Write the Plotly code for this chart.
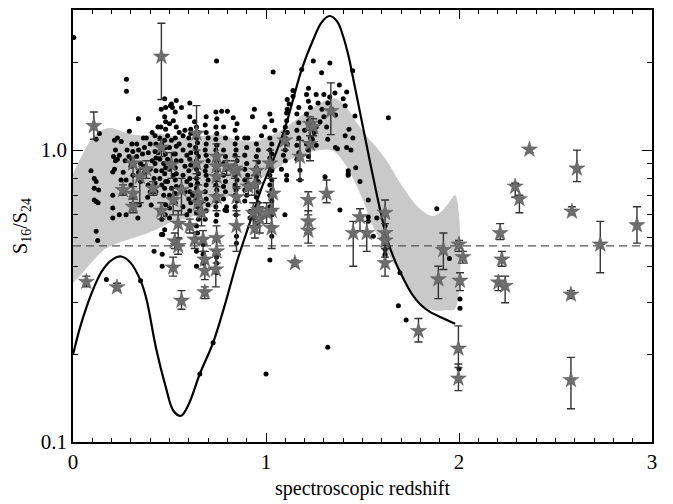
import plotly.graph_objects as go
import math

# ---------------- data ----------------
# model curve (spectroscopic redshift, S16/S24)
curve_x = [0.00, 0.035, 0.07, 0.11, 0.15, 0.20, 0.25, 0.30, 0.35, 0.38, 0.43, 0.48, 0.52, 0.56,
           0.60, 0.657, 0.726, 0.79, 0.853, 0.93, 0.98, 1.037, 1.10, 1.185, 1.24, 1.29, 1.33,
           1.37, 1.40, 1.426, 1.461, 1.513, 1.55, 1.59, 1.63, 1.67, 1.70, 1.755, 1.80, 1.85, 1.92, 1.98]
curve_y = [0.199, 0.245, 0.29, 0.34, 0.385, 0.42, 0.432, 0.41, 0.357, 0.31, 0.21, 0.155, 0.128, 0.123,
           0.135, 0.171, 0.219, 0.30, 0.422, 0.60, 0.75, 0.923, 1.2, 1.89, 2.35, 2.75, 2.88,
           2.75, 2.45, 2.12, 1.64, 1.106, 0.84, 0.63, 0.49, 0.415, 0.376, 0.322, 0.296, 0.279, 0.265, 0.254]

# grey band: upper and lower envelopes
band_up_x = [0.0, 0.05, 0.10, 0.15, 0.20, 0.25, 0.31, 0.38, 0.43, 0.50, 0.59, 0.68, 0.75, 0.80, 0.86,
             0.92, 0.98, 1.05, 1.12, 1.20, 1.26, 1.31, 1.36, 1.41, 1.47, 1.53, 1.59, 1.64, 1.68, 1.72,
             1.76, 1.81, 1.86, 1.90, 1.94, 1.98]
band_up_y = [0.83, 0.97, 1.10, 1.17, 1.19, 1.16, 1.13, 1.12, 1.14, 1.12, 1.10, 1.12, 1.13, 1.11, 1.08,
             1.07, 1.09, 1.14, 1.22, 1.34, 1.42, 1.48, 1.50, 1.42, 1.24, 1.10, 0.99, 0.89, 0.80, 0.73,
             0.67, 0.62, 0.595, 0.61, 0.65, 0.70]
band_lo_x = [0.0, 0.05, 0.10, 0.17, 0.26, 0.34, 0.43, 0.52, 0.60, 0.66, 0.71, 0.79, 0.88, 0.96, 1.05,
             1.13, 1.20, 1.28, 1.34, 1.38, 1.43, 1.50, 1.55, 1.60, 1.64, 1.68, 1.72, 1.76, 1.81, 1.87,
             1.93, 1.98]
band_lo_y = [0.35, 0.38, 0.415, 0.46, 0.487, 0.507, 0.534, 0.57, 0.585, 0.61, 0.633, 0.684, 0.74, 0.79, 0.86,
             0.93, 0.97, 1.0, 1.0, 0.95, 0.85, 0.68, 0.555, 0.48, 0.435, 0.39, 0.355, 0.315, 0.293, 0.282,
             0.283, 0.286]

# reference level (dashed line)
ref_level = 0.47

# stars with error bars: x, y, lower, upper
star_x = [0.108, 0.458, 0.640, 0.458, 0.311, 0.380, 0.346, 0.259, 0.311, 0.311, 0.415, 0.458, 0.510, 0.519,
          0.562, 0.545, 0.605, 0.640, 0.648, 0.648, 0.666, 0.744, 0.744, 0.744, 0.744, 0.796, 0.847, 0.847,
          0.847, 0.908, 0.951, 0.934, 0.968, 1.020, 1.037, 1.029, 1.003, 1.098, 1.176, 1.228, 1.228, 1.219,
          1.219, 1.219, 1.314, 1.336, 1.245, 1.487, 1.452, 1.522, 1.617, 1.617, 1.617, 1.617, 1.919, 2.000,
          2.213, 2.365, 2.291, 2.313, 2.611, 2.585, 2.732, 2.922, 1.893, 2.020, 2.005, 1.790, 1.997, 1.997,
          2.222, 2.204, 2.239, 2.580, 2.580, 0.069, 0.228, 0.519, 0.562, 0.683, 0.683, 0.683, 0.740, 1.150,
          0.527, 0.545, 0.631, 0.674, 0.744, 0.744, 0.942, 0.960, 0.942, 1.029, 0.839]
star_y = [1.21, 2.09, 1.14, 1.02, 0.90, 0.86, 0.81, 0.73, 0.71, 0.64, 0.74, 0.62, 0.89, 0.675,
          0.73, 0.56, 0.55, 0.90, 0.71, 0.66, 0.61, 0.95, 0.88, 0.81, 0.69, 0.88, 0.85, 0.69,
          0.55, 0.75, 0.85, 0.61, 0.58, 0.90, 0.71, 0.62, 0.61, 1.08, 0.95, 1.23, 1.05, 0.675,
          0.57, 0.53, 0.71, 1.36, 1.20, 0.59, 0.52, 0.52, 0.61, 0.52, 0.49, 0.41, 0.455, 0.475,
          0.52, 1.005, 0.75, 0.68, 0.865, 0.616, 0.475, 0.553, 0.361, 0.43, 0.357, 0.24, 0.209, 0.165,
          0.422, 0.352, 0.343, 0.32, 0.163, 0.354, 0.339, 0.396, 0.305, 0.422, 0.386, 0.326, 0.39, 0.41,
          0.487, 0.469, 0.494, 0.494, 0.50, 0.45, 0.76, 0.624, 0.54, 0.54, 0.865]
star_lo = [1.09, 1.49, 0.83, 0.95, 0.69, 0.80, 0.66, 0.70, 0.66, 0.61, 0.70, 0.58, 0.80, 0.60,
           0.60, 0.50, 0.52, 0.80, 0.65, 0.60, 0.55, 0.88, 0.80, 0.70, 0.62, 0.82, 0.74, 0.60,
           0.45, 0.70, 0.78, 0.55, 0.52, 0.80, 0.62, 0.55, 0.56, 1.00, 0.79, 1.12, 0.92, 0.60,
           0.52, 0.48, 0.66, 1.13, 1.12, 0.53, 0.40, 0.45, 0.43, 0.47, 0.46, 0.37, 0.39, 0.45,
           0.494, 0.98, 0.69, 0.61, 0.78, 0.60, 0.38, 0.48, 0.31, 0.41, 0.33, 0.22, 0.18, 0.15,
           0.40, 0.33, 0.30, 0.31, 0.13, 0.34, 0.33, 0.37, 0.285, 0.39, 0.36, 0.31, 0.34, 0.40,
           0.46, 0.44, 0.46, 0.45, 0.44, 0.41, 0.70, 0.58, 0.50, 0.46, 0.80]
star_hi = [1.35, 2.72, 1.42, 1.08, 0.94, 0.92, 0.86, 0.76, 0.75, 0.68, 0.78, 0.66, 0.98, 0.74,
           0.80, 0.62, 0.58, 1.00, 0.76, 0.70, 0.66, 1.05, 0.95, 0.86, 0.75, 0.92, 0.95, 0.75,
           0.62, 0.80, 0.92, 0.66, 0.64, 1.00, 0.80, 0.70, 0.66, 1.15, 1.08, 1.30, 1.17, 0.72,
           0.62, 0.57, 0.79, 1.70, 1.28, 0.63, 0.57, 0.57, 0.675, 0.56, 0.52, 0.46, 0.52, 0.49,
           0.56, 1.02, 0.77, 0.70, 1.00, 0.64, 0.57, 0.64, 0.40, 0.45, 0.38, 0.265, 0.25, 0.185,
           0.45, 0.37, 0.37, 0.33, 0.195, 0.37, 0.35, 0.43, 0.33, 0.45, 0.41, 0.34, 0.45, 0.42,
           0.52, 0.50, 0.52, 0.53, 0.55, 0.49, 0.82, 0.66, 0.58, 0.60, 0.92]

# black dots (x, y)
dot_points = [
    (0.004, 2.43), (0.277, 1.75), (0.277, 1.59), (0.744, 2.02), (1.037, 1.85), (1.245, 2.02), (1.331, 1.99),
    (1.288, 1.84), (1.185, 1.89), (1.449, 1.87), (1.634, 1.29), (1.885, 0.63), (1.383, 0.624),
    (1.686, 0.293), (1.726, 0.262), (1.95, 0.425), (2.005, 0.309), (2.005, 0.287), (2.0, 0.178), (1.694, 0.38),
    (1.617, 0.44), (0.173, 0.36), (0.35, 0.357), (0.42, 0.45), (0.462, 0.44), (0.462, 0.40), (0.64, 0.40),
    (0.657, 0.171), (0.726, 0.219), (1.0, 0.171), (1.32, 0.211),
    # left columns
    (0.093, 0.85), (0.11, 0.80), (0.12, 0.78), (0.11, 0.74), (0.133, 0.73), (0.11, 0.675), (0.12, 0.667),
    (0.13, 0.66), (0.12, 0.527), (0.128, 0.49), (0.137, 1.14), (0.12, 1.09),
    (0.206, 0.842), (0.215, 0.86), (0.206, 0.70), (0.206, 0.633), (0.206, 0.585), (0.24, 0.60), (0.215, 1.08),
    (0.23, 1.1), (0.25, 1.07), (0.22, 1.0), (0.24, 0.96), (0.23, 0.93), (0.249, 0.79), (0.22, 0.92), (0.21, 0.95),
    (0.275, 0.79), (0.275, 0.6), (0.30, 0.76), (0.292, 1.16), (0.28, 1.0), (0.29, 0.95), (0.30, 0.88),
    (0.27, 0.92), (0.26, 0.84), (0.305, 1.05), (0.31, 0.99), (0.305, 0.93), (0.31, 0.82),
    (0.339, 1.28), (0.344, 0.649), (0.336, 0.585), (0.34, 1.0), (0.33, 0.95), (0.35, 0.9), (0.34, 0.84),
    (0.35, 0.78), (0.33, 1.05), (0.36, 0.97), (0.365, 1.1), (0.37, 1.02), (0.365, 0.88), (0.37, 0.84),
    (0.387, 0.69), (0.405, 0.649), (0.38, 1.1), (0.40, 1.05), (0.39, 0.98), (0.41, 0.92), (0.40, 0.86),
    (0.42, 0.80), (0.39, 0.76), (0.41, 1.15), (0.40, 0.72), (0.425, 1.12), (0.43, 1.05), (0.425, 0.99),
    (0.43, 0.94), (0.425, 0.90), (0.43, 0.85), (0.425, 0.77), (0.43, 0.72),
    (0.457, 1.38), (0.44, 1.2), (0.455, 1.2), (0.45, 1.1), (0.46, 1.05), (0.44, 0.98), (0.45, 0.93),
    (0.47, 0.90), (0.46, 0.85), (0.45, 0.80), (0.46, 0.76), (0.47, 0.70), (0.465, 0.514), (0.45, 0.62),
    (0.46, 0.58), (0.458, 0.514), (0.475, 0.534), (0.475, 1.5), (0.48, 1.4), (0.475, 1.3), (0.48, 1.18),
    (0.475, 1.08), (0.48, 1.02), (0.478, 0.97), (0.48, 0.87), (0.475, 0.83), (0.48, 0.78), (0.475, 0.74),
    (0.48, 0.65), (0.478, 0.60),
    (0.51, 1.44), (0.515, 1.40), (0.505, 1.42), (0.48, 1.25), (0.50, 1.23), (0.52, 1.26), (0.49, 1.12),
    (0.51, 1.08), (0.50, 1.02), (0.52, 0.97), (0.49, 0.93), (0.51, 0.90), (0.50, 0.86), (0.52, 0.82),
    (0.49, 0.78), (0.51, 0.74), (0.50, 0.70), (0.50, 0.633), (0.50, 0.585), (0.53, 0.66),
    (0.535, 1.48), (0.53, 1.35), (0.535, 1.20), (0.53, 1.10), (0.535, 1.03), (0.53, 0.97), (0.535, 0.92),
    (0.53, 0.87), (0.535, 0.83), (0.53, 0.79), (0.535, 0.75), (0.53, 0.71),
    (0.562, 1.40), (0.55, 1.15), (0.57, 1.12), (0.58, 1.17), (0.60, 1.10), (0.61, 1.14), (0.55, 1.05),
    (0.57, 1.0), (0.59, 0.96), (0.56, 0.92), (0.58, 0.88), (0.60, 0.85), (0.57, 0.82), (0.59, 0.78),
    (0.56, 0.75), (0.58, 0.72), (0.60, 0.68), (0.57, 0.64), (0.59, 0.60),
    (0.605, 1.45), (0.605, 1.30), (0.61, 1.18), (0.605, 1.04), (0.61, 0.98), (0.605, 0.93), (0.61, 0.89),
    (0.605, 0.80), (0.61, 0.76), (0.605, 0.72), (0.61, 0.66), (0.605, 0.62),
    # column ~0.64
    (0.63, 1.25), (0.64, 1.20), (0.65, 1.15), (0.64, 1.10), (0.645, 1.06), (0.635, 1.02), (0.64, 0.98),
    (0.65, 0.95), (0.64, 0.92), (0.645, 0.89), (0.64, 0.86), (0.65, 0.83), (0.64, 0.80), (0.645, 0.77),
    (0.64, 0.74), (0.65, 0.71), (0.64, 0.68), (0.645, 0.64), (0.64, 0.61), (0.65, 0.58), (0.64, 0.55),
    (0.645, 0.52), (0.64, 0.45),
    # column ~0.69
    (0.69, 1.30), (0.685, 1.22), (0.69, 1.15), (0.70, 1.10), (0.69, 1.05), (0.685, 1.0), (0.69, 0.96),
    (0.70, 0.92), (0.69, 0.88), (0.685, 0.85), (0.69, 0.82), (0.70, 0.79), (0.69, 0.76), (0.685, 0.72),
    (0.69, 0.68), (0.70, 0.65), (0.69, 0.62), (0.685, 0.58), (0.674, 0.41), (0.674, 0.44), (0.674, 0.475),
    (0.62, 0.70), (0.66, 0.66),
    # column ~0.74
    (0.74, 1.35), (0.745, 1.28), (0.74, 1.20), (0.745, 1.14), (0.74, 1.09), (0.745, 1.04), (0.74, 1.0),
    (0.745, 0.97), (0.74, 0.94), (0.745, 0.91), (0.74, 0.88), (0.745, 0.85), (0.74, 0.82), (0.745, 0.79),
    (0.74, 0.76), (0.745, 0.73), (0.74, 0.70), (0.745, 0.67), (0.74, 0.64), (0.745, 0.60), (0.74, 0.57),
    (0.744, 0.41), (0.744, 0.43), (0.744, 0.45), (0.744, 0.38),
    # column ~0.78
    (0.77, 1.36), (0.80, 1.36), (0.78, 1.20), (0.79, 1.10), (0.78, 1.0), (0.79, 0.95), (0.78, 0.90),
    (0.79, 0.86), (0.78, 0.82), (0.79, 0.78), (0.78, 0.75), (0.79, 0.72), (0.78, 0.68), (0.796, 0.62),
    (0.796, 0.64), (0.787, 0.624),
    # column ~0.84
    (0.83, 1.29), (0.85, 1.23), (0.84, 1.17), (0.85, 1.10), (0.84, 1.05), (0.845, 1.0), (0.84, 0.96),
    (0.85, 0.92), (0.84, 0.88), (0.845, 0.85), (0.84, 0.82), (0.85, 0.79), (0.84, 0.76), (0.845, 0.73),
    (0.84, 0.70), (0.85, 0.67), (0.84, 0.64), (0.845, 0.60), (0.847, 0.507), (0.847, 0.48),
    # column ~0.9
    (0.89, 1.10), (0.90, 1.02), (0.89, 0.96), (0.90, 0.90), (0.89, 0.86), (0.905, 0.82), (0.89, 0.79),
    (0.90, 0.76), (0.89, 0.73), (0.90, 0.70), (0.89, 0.67),
    # column ~0.95
    (0.94, 1.38), (0.93, 1.30), (0.977, 1.12), (0.95, 1.05), (0.96, 1.0), (0.95, 0.95), (0.96, 0.91),
    (0.95, 0.87), (0.96, 0.84), (0.95, 0.81), (0.96, 0.78), (0.95, 0.75), (0.96, 0.72), (0.95, 0.69),
    (0.96, 0.66), (0.917, 0.616), (0.917, 0.585), (0.95, 0.56), (0.906, 1.10),
    # column ~1.02
    (1.02, 1.33), (1.03, 1.26), (0.994, 1.20), (1.046, 1.17), (1.02, 1.10), (1.03, 1.05), (1.02, 1.0),
    (1.03, 0.97), (1.02, 0.94), (1.03, 0.91), (1.02, 0.88), (1.03, 0.85), (1.02, 0.82), (1.03, 0.79),
    (1.02, 0.76), (1.03, 0.73), (1.02, 0.70), (1.03, 0.67), (1.02, 0.64), (1.03, 0.60), (1.03, 0.507),
    (1.02, 0.42),
    # column ~1.1
    (1.11, 1.49), (1.12, 1.44), (1.11, 1.38), (1.107, 1.34), (1.107, 1.26), (1.10, 1.20), (1.11, 1.15),
    (1.10, 1.10), (1.11, 1.05), (1.10, 1.0), (1.09, 0.96), (1.10, 0.92), (1.08, 0.86), (1.107, 0.82),
    (1.107, 0.79), (1.098, 0.60),
    # column ~1.16
    (1.14, 1.60), (1.14, 1.53), (1.17, 1.40), (1.16, 1.33), (1.17, 1.24), (1.16, 1.17), (1.17, 1.10),
    (1.16, 1.04), (1.17, 0.98), (1.16, 0.93), (1.176, 0.853), (1.176, 0.79),
    # column ~1.22
    (1.22, 1.63), (1.21, 1.55), (1.22, 1.47), (1.23, 1.40), (1.21, 1.33), (1.22, 1.26), (1.20, 1.17),
    (1.23, 1.10), (1.21, 1.05), (1.219, 1.0), (1.22, 0.95),
    # column ~1.28
    (1.26, 1.55), (1.30, 1.55), (1.27, 1.45), (1.29, 1.38), (1.30, 1.30), (1.28, 1.25), (1.26, 1.20),
    (1.25, 1.15), (1.24, 1.09), (1.26, 1.04),
    # column ~1.34
    (1.357, 1.57), (1.33, 1.52), (1.32, 1.45), (1.34, 1.38), (1.36, 1.32), (1.314, 1.20), (1.32, 1.09),
    (1.36, 1.02), (1.37, 1.01), (1.306, 0.81),
    # column ~1.40
    (1.38, 1.67), (1.418, 1.58), (1.40, 1.50), (1.41, 1.42), (1.41, 1.12), (1.418, 1.02),
    # column ~1.45
    (1.461, 1.31), (1.43, 1.18), (1.45, 1.10), (1.44, 1.0), (1.465, 0.87), (1.426, 0.85), (1.426, 0.83),
    (1.426, 0.82), (1.487, 0.78),
    # column ~1.53
    (1.53, 0.675), (1.53, 0.59), (1.53, 0.57), (1.556, 0.507), (1.574, 0.585),
    (1.617, 0.55), (1.617, 0.457), (1.617, 0.435),
]

# ---------------- figure ----------------
fig = go.Figure()

# grey band
fig.add_trace(go.Scatter(
    x=band_up_x + band_lo_x[::-1],
    y=band_up_y + band_lo_y[::-1],
    fill="toself", fillcolor="#c9c9c9", line=dict(width=0, color="#c9c9c9"),
    mode="lines", hoverinfo="skip", showlegend=False, line_shape="spline"))

# dashed reference line
fig.add_trace(go.Scatter(
    x=[0, 3], y=[ref_level, ref_level], mode="lines",
    line=dict(color="#555555", width=1.2, dash="8px,5px"), showlegend=False))

# dots
fig.add_trace(go.Scatter(
    x=[p[0] for p in dot_points], y=[p[1] for p in dot_points], mode="markers",
    marker=dict(color="black", size=5), showlegend=False))

# model curve
fig.add_trace(go.Scatter(
    x=curve_x, y=curve_y, mode="lines", line=dict(color="black", width=2.2, shape="spline"),
    showlegend=False))

# stars with error bars
fig.add_trace(go.Scatter(
    x=star_x, y=star_y, mode="markers",
    marker=dict(symbol="star", size=12, color="#6d6d6d", line=dict(color="#555555", width=0.5)),
    error_y=dict(type="data", symmetric=False,
                 array=[h - y for h, y in zip(star_hi, star_y)],
                 arrayminus=[y - l for l, y in zip(star_lo, star_y)],
                 color="#333333", thickness=1.4, width=4),
    showlegend=False))

font_family = "Liberation Serif, Times New Roman, serif"

fig.update_layout(
    width=673, height=504,
    margin=dict(l=73, r=21, t=8, b=60),
    paper_bgcolor="white", plot_bgcolor="white",
    font=dict(family=font_family, size=20, color="black"),
    showlegend=False,
    xaxis=dict(
        range=[0, 3], showgrid=False, zeroline=False,
        showline=True, linecolor="black", linewidth=1.5, mirror="ticks",
        ticks="inside", ticklen=9, tickwidth=1.2, tickcolor="black",
        tickvals=[0, 1, 2, 3], ticktext=["0", "1", "2", "3"],
        tickfont=dict(family=font_family, size=21),
        minor=dict(dtick=0.1, ticks="inside", ticklen=4, tickwidth=1, tickcolor="black", showgrid=False),
        title=dict(text="spectroscopic redshift", font=dict(family=font_family, size=20), standoff=8),
    ),
    yaxis=dict(
        type="log", range=[math.log10(0.1), math.log10(3.02)], showgrid=False, zeroline=False,
        showline=True, linecolor="black", linewidth=1.5, mirror="ticks",
        ticks="inside", ticklen=10, tickwidth=1.2, tickcolor="black",
        tickvals=[0.1, 1.0], ticktext=["0.1", "1.0"],
        tickfont=dict(family=font_family, size=21),
        minor=dict(tickvals=[0.2, 0.3, 0.4, 0.5, 0.6, 0.7, 0.8, 0.9, 2, 3], ticks="inside",
                   ticklen=5, tickwidth=1, tickcolor="black", showgrid=False),
        title=dict(text="S<sub>16</sub>/S<sub>24</sub>", font=dict(family=font_family, size=20), standoff=8),
    ),
)

fig.write_html("out.html")
